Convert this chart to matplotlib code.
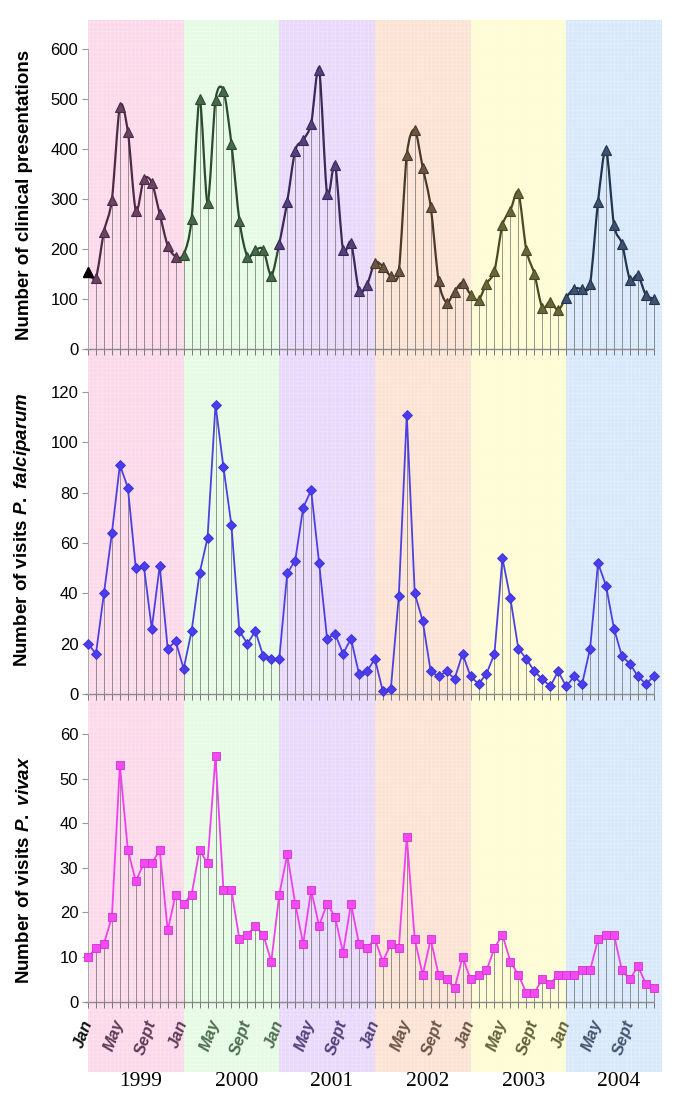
import numpy as np
import matplotlib
matplotlib.use('Agg')
import matplotlib.pyplot as plt
from matplotlib.path import Path
from matplotlib.patches import PathPatch
from matplotlib.transforms import blended_transform_factory

# ===== DATA (monthly, Jan 1999 - Dec 2004) =====
YEARS = ['1999', '2000', '2001', '2002', '2003', '2004']

clinical = [155, 143, 235, 299, 485, 435, 277, 340, 333, 270, 207, 185,
            189, 260, 500, 293, 498, 517, 410, 257, 185, 198, 199, 147,
            211, 295, 397, 418, 451, 559, 310, 369, 199, 213, 117, 128,
            173, 165, 146, 156, 388, 438, 363, 285, 136, 93, 115, 133,
            109, 98, 131, 156, 248, 277, 313, 198, 151, 83, 95, 78,
            103, 121, 121, 131, 295, 399, 248, 211, 139, 148, 108, 101]

falciparum = [20, 16, 40, 64, 91, 82, 50, 51, 26, 51, 18, 21,
              10, 25, 48, 62, 115, 90, 67, 25, 20, 25, 15, 14,
              14, 48, 53, 74, 81, 52, 22, 24, 16, 22, 8, 9,
              14, 1, 2, 39, 111, 40, 29, 9, 7, 9, 6, 16,
              7, 4, 8, 16, 54, 38, 18, 14, 9, 6, 3, 9,
              3, 7, 4, 18, 52, 43, 26, 15, 12, 7, 4, 7]

vivax = [10, 12, 13, 19, 53, 34, 27, 31, 31, 34, 16, 24,
         22, 24, 34, 31, 55, 25, 25, 14, 15, 17, 15, 9,
         24, 33, 22, 13, 25, 17, 22, 19, 11, 22, 13, 12,
         14, 9, 13, 12, 37, 14, 6, 14, 6, 5, 3, 10,
         5, 6, 7, 12, 15, 9, 6, 2, 2, 5, 4, 6,
         6, 6, 7, 7, 14, 15, 15, 7, 5, 8, 4, 3]

MONTH_LABELS = ['Jan', 'May', 'Sept']

# ===== STYLE =====
BAND_COLORS = ['#fcd8ea', '#e5fbe4', '#e8d8fb', '#fbe2d2', '#fdfcd2', '#d7e8fb']
LINE_COLORS = ['#4d2a45', '#2d4a30', '#3a2858', '#4a3828', '#4a4a22', '#22344e']
MARK_COLORS = ['#6a4262', '#466848', '#54407a', '#6a5442', '#66663a', '#3e5270']
TEXT_COLORS = ['#5e3a55', '#4f6e50', '#54407a', '#6b5545', '#62623a', '#45566e']

W, H = 685, 1110
X0, X1 = 88, 661.8          # pixel extent of months 0..72
plt.rcParams['font.family'] = ['Liberation Sans', 'DejaVu Sans']
plt.rcParams['mathtext.fontset'] = 'custom'
plt.rcParams['mathtext.it'] = 'Liberation Sans:italic:bold'
plt.rcParams['mathtext.rm'] = 'Liberation Sans:bold'
plt.rcParams['hatch.linewidth'] = 0.35


def px_axes(fig, y_top, y_bot):
    return fig.add_axes([X0 / W, 1 - y_bot / H, (X1 - X0) / W, (y_bot - y_top) / H])


def lighten(c, f):
    rgb = np.array(matplotlib.colors.to_rgb(c))
    return tuple(rgb + (1 - rgb) * f)


def smooth_path(xs, ys, k=7.0):
    """Bezier segments (Catmull-Rom style) through the points, like Excel smoothed lines."""
    xs = np.asarray(xs, float)
    ys = np.asarray(ys, float)
    n = len(xs)
    segs = []
    for i in range(n - 1):
        p0 = (xs[max(i - 1, 0)], ys[max(i - 1, 0)])
        p1 = (xs[i], ys[i])
        p2 = (xs[i + 1], ys[i + 1])
        p3 = (xs[min(i + 2, n - 1)], ys[min(i + 2, n - 1)])
        c1 = (p1[0] + (p2[0] - p0[0]) / k, p1[1] + (p2[1] - p0[1]) / k)
        c2 = (p2[0] - (p3[0] - p1[0]) / k, p2[1] - (p3[1] - p1[1]) / k)
        segs.append((p1, c1, c2, p2))
    return segs


fig = plt.figure(figsize=(W / 100, H / 100), dpi=100)

# background year bands
bg = px_axes(fig, 20, 1072)
bg.set_xlim(0, 72)
bg.set_ylim(0, 1)
bg.axis('off')
for k, c in enumerate(BAND_COLORS):
    bg.axvspan(12 * k, 12 * k + 12, color=c, lw=0)
    bg.axvspan(12 * k, 12 * k + 12, facecolor='none', edgecolor=lighten(c, 0.45),
               hatch='++++', lw=0)

months = np.arange(72)
ax1 = px_axes(fig, 20, 349)
ax2 = px_axes(fig, 360, 694)
ax3 = px_axes(fig, 705, 1001.7)
panels = [(ax1, clinical, 658, 600, 100),
          (ax2, falciparum, 132.7, 120, 20),
          (ax3, vivax, 66.5, 60, 10)]

for ax, vals, ytop, ymax, step in panels:
    ax.set_facecolor('none')
    ax.set_xlim(0, 72)
    ax.set_ylim(0, ytop)
    for s in ['top', 'right', 'bottom']:
        ax.spines[s].set_visible(False)
    ax.spines['left'].set_bounds(0, ymax)
    ax.spines['left'].set_color('#aaaaaa')
    ax.spines['left'].set_linewidth(0.7)
    ax.set_yticks(np.arange(0, ymax + 1, step))
    ax.tick_params(axis='y', length=4, width=0.8, color='#999999', labelsize=12, pad=3)
    ax.set_xticks(months, minor=True)
    ax.tick_params(axis='x', which='both', direction='out', length=4.5, width=0.7,
                   color='#777777')
    ax.hlines(0, -0.4, 71, color='#8a8a8a', lw=1.0, clip_on=False, zorder=2)
    ax.vlines(months, 0, vals, color='#555555', lw=0.6, alpha=0.7, zorder=2)

# top panel: smoothed line, triangles coloured per year
segs = smooth_path(months, clinical)
for i, (p1, c1, c2, p2) in enumerate(segs):
    k = i // 12
    path = Path([p1, c1, c2, p2], [Path.MOVETO, Path.CURVE4, Path.CURVE4, Path.CURVE4])
    ax1.add_patch(PathPatch(path, facecolor='none', edgecolor=LINE_COLORS[k], lw=1.6,
                            zorder=3, clip_on=False))
for k in range(6):
    sl = slice(12 * k, 12 * k + 12)
    ax1.plot(months[sl], clinical[sl], ls='none', marker='^', ms=7,
             mfc=MARK_COLORS[k], mec=LINE_COLORS[k], mew=0.8, zorder=4, clip_on=False)
ax1.plot(months[:1], clinical[:1], ls='none', marker='^', ms=7, mfc='black', mec='black',
         zorder=5, clip_on=False)

# middle and bottom panels
ax2.plot(months, falciparum, color='#4d40e2', lw=1.3, marker='D', ms=5.5,
         mfc='#4a3cf0', mec='#3d30c8', mew=0.6, zorder=4, clip_on=False)
ax3.plot(months, vivax, color='#f040ee', lw=1.3, marker='s', ms=6,
         mfc='#f04af0', mec='#d030d0', mew=0.6, zorder=4, clip_on=False)

# y labels
ax1.set_ylabel('Number of clinical presentations', fontsize=13.5, fontweight='bold')
ax2.set_ylabel(r'Number of visits $\mathit{P.\ falciparum}$', fontsize=13.5, fontweight='bold')
ax3.set_ylabel(r'Number of visits $\mathit{P.\ vivax}$', fontsize=13.5, fontweight='bold')
ax1.yaxis.set_label_coords(-0.095, (349 - 195) / 329)
ax2.yaxis.set_label_coords(-0.095, (694 - 530) / 334)
ax3.yaxis.set_label_coords(-0.095, (1001.7 - 870) / 296.7)

# month labels on the bottom panel
ticks, labels, colors = [], [], []
for k in range(6):
    for j, name in enumerate(MONTH_LABELS):
        ticks.append(12 * k + 4 * j)
        labels.append(name)
        if j == 0:
            colors.append('#111111' if k == 0 else TEXT_COLORS[k - 1])
        else:
            colors.append(TEXT_COLORS[k])
for ax in (ax1, ax2):
    ax.set_xticks(ticks)
    ax.set_xticklabels([])
ax3.set_xticks(ticks)
ax3.set_xticklabels(labels, rotation=70, ha='right', va='center', rotation_mode='anchor',
                    fontsize=12, fontweight='bold', fontstyle='italic')
ax3.tick_params(axis='x', which='major', pad=9)
for t, c in zip(ax3.get_xticklabels(), colors):
    t.set_color(c)

# year labels
tr = blended_transform_factory(ax3.transData, ax3.transAxes)
for k, yr in enumerate(YEARS):
    ax3.text(12 * k + 6.6, -0.27, yr, transform=tr, ha='center', va='center',
             fontsize=15.5, family='Liberation Serif', clip_on=False)

plt.savefig('out.png', dpi=100)
